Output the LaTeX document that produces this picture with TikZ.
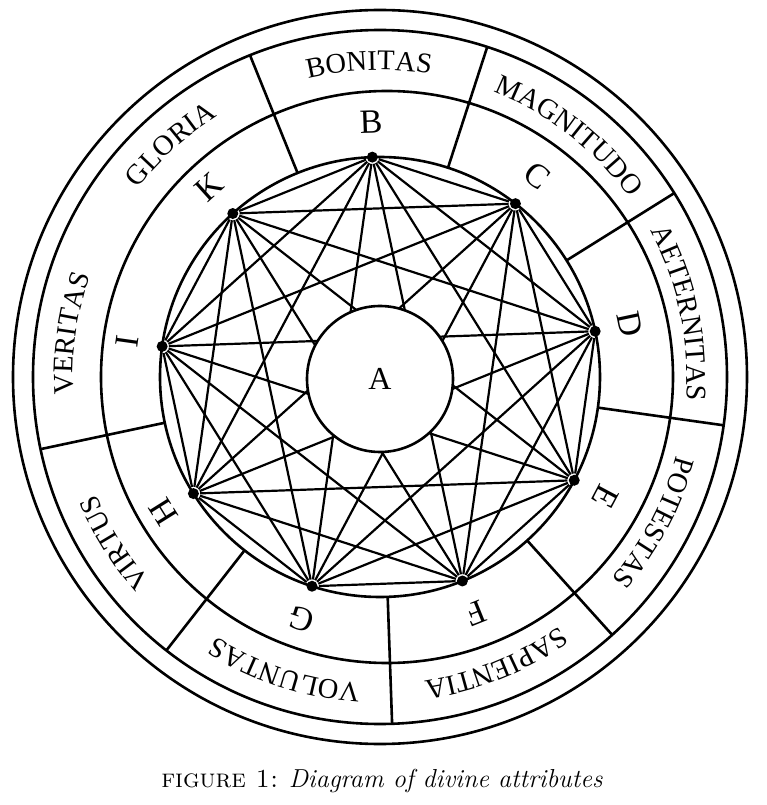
\documentclass[tikz,border=0pt]{standalone}
\usepackage{fontspec}
\usepackage{tikz}
\usetikzlibrary{decorations.text}
\newfontfamily\ringfont{Liberation Serif}
\newcommand{\wordfont}{\ringfont\fontsize{28.5}{30}\selectfont}

\begin{document}
\begin{tikzpicture}[x=1pt, y=1pt, line width=2.6pt,
    letter/.style={font=\ringfont\fontsize{34}{36}\selectfont, inner sep=0pt},
    vertex/.style={circle, fill, inner sep=0pt, minimum size=11pt},
    chord/.style={line width=2.2pt}]
  \useasboundingbox (-380,-428) rectangle (386,377);
  % the rings
  \draw (0,0) circle[radius=367];
  \draw (0,0) circle[radius=347];
  \draw (7,0) circle[radius=286];
  \draw (0,0) circle[radius=220];
  % sector dividers
  \foreach \t in {112,72,...,-168}
    \draw (\t:220) -- (\t:347);
  % the nine points and their letters
  \foreach \name [count=\i] in {B,C,D,E,F,G,H,I,K} {
    \pgfmathsetmacro\ang{92-40*(\i-1)}
    \node[vertex] (p\i) at (\ang:220) {};
    \node[letter, rotate=\ang-90] (\name) at (\ang:255) {\name};
  }
  % every point joined to every other
  \foreach \i in {1,...,8} {
    \pgfmathtruncatemacro\nxt{\i+1}
    \foreach \j in {\nxt,...,9}
      \draw[chord] (p\i) -- (p\j);
  }
  % centre circle
  \node[circle, draw, fill=white, minimum size=146pt, inner sep=0pt,
    font=\ringfont\fontsize{32}{34}\selectfont] (A) at (0,-2) {A};
  % names of the attributes
  \foreach \w [count=\i] in {BONITAS,MAGNITUDO,AETERNITAS,POTESTAS,SAPIENTIA,
      VOLUNTAS,VIRTUS,VERITAS,GLORIA} {
    \pgfmathsetmacro\ang{112-40*(\i-1)}
    \path[decorate, decoration={text along path, text align=center,
        text/.expanded={|\noexpand\wordfont|\w}}]
      (\ang:307) arc[start angle=\ang, end angle=\ang-40, radius=307];
  }
  % caption
  \node[anchor=base, font=\fontsize{26}{28}\selectfont] (caption) at (2,-410)
    {\textsc{figure 1:} \textit{Diagram of divine attributes}};
\end{tikzpicture}
\end{document}
